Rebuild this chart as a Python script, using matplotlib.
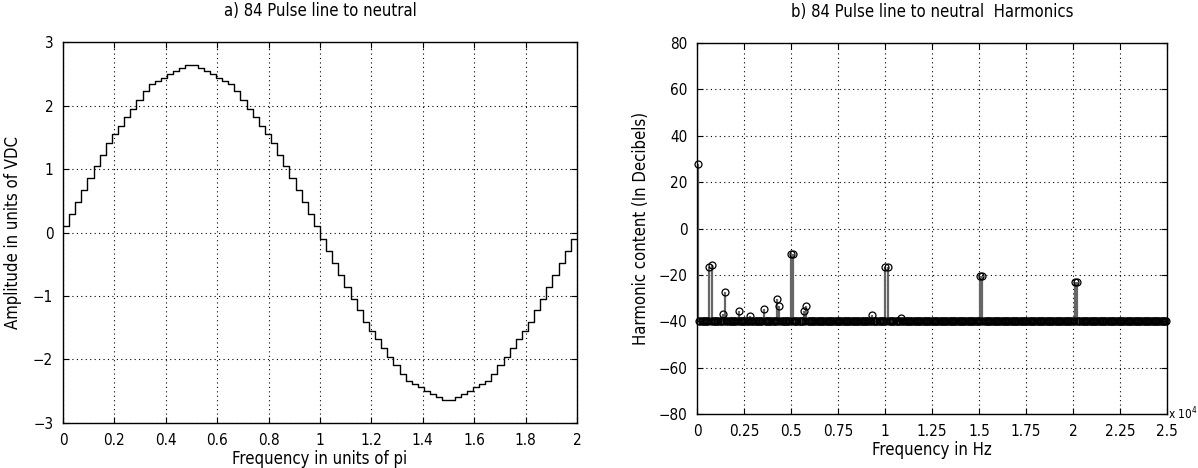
import numpy as np
import matplotlib
matplotlib.use("Agg")
import matplotlib.pyplot as plt

plt.rcParams['font.family'] = ['DejaVu Sans']
plt.rcParams['font.stretch'] = 'condensed'
plt.rcParams['font.size'] = 10.5

# a) staircase levels for the first quarter cycle (units of VDC)
quarter_levels = [0.104, 0.297, 0.479, 0.672, 0.859, 1.042, 1.224, 1.406, 1.552, 1.682,
                  1.818, 1.953, 2.089, 2.234, 2.333, 2.391, 2.438, 2.490, 2.536, 2.589, 2.635]
n_steps = 84

# b) harmonic spectrum (fundamental 60 Hz), dB values
fund_hz = 60
max_order = 416
floor_db = -40
peak_orders = [1, 11, 13, 23, 25, 37, 47, 59, 71, 73, 83, 85, 95, 97, 155,
               167, 169, 181, 251, 253, 335, 337]
peak_db = [27.7, -16.5, -15.7, -36.9, -27.2, -35.7, -37.7, -34.6, -30.4, -33.3,
           -10.8, -10.8, -35.4, -33.3, -37.3, -16.8, -16.8, -38.5, -20.3, -20.3,
           -22.9, -22.9]

# build the waveform (quarter-wave symmetry of the staircase)
half = quarter_levels + quarter_levels[::-1]
wave = np.array(half + [-v for v in half])
edges = np.arange(n_steps + 1) * 2.0 / n_steps

orders = np.arange(1, max_order + 1)
spec = np.full(len(orders), float(floor_db))
for o, d in zip(peak_orders, peak_db):
    spec[o - 1] = d
freqs = orders * fund_hz

fig = plt.figure(figsize=(11.98, 4.68), dpi=100)
ax1 = fig.add_axes([0.0526, 0.0962, 0.429, 0.814])
ax2 = fig.add_axes([0.5818, 0.1154, 0.3923, 0.7927])

def matlab_style(ax):
    ax.grid(True, color='black', linestyle=(0, (1, 3)), linewidth=0.8)
    ax.tick_params(direction='in', top=True, right=True, length=4, width=0.8,
                   colors='black', pad=7, labelsize=11)
    for s in ax.spines.values():
        s.set_linewidth(1.0)

# left plot
ax1.step(edges, np.append(wave, wave[-1]), where='post', color='black', linewidth=1.0)
ax1.set_xlim(0, 2)
ax1.set_ylim(-3, 3)
ax1.set_xticks(np.arange(0, 2.01, 0.2))
ax1.set_xticklabels(['0', '0.2', '0.4', '0.6', '0.8', '1', '1.2', '1.4', '1.6', '1.8', '2'])
ax1.set_yticks(np.arange(-3, 4, 1))
ax1.set_yticklabels(['\u22123', '\u22122', '\u22121', '0', '1', '2', '3'])
ax1.set_title('a) 84 Pulse line to neutral', fontsize=12, pad=19)
ax1.set_xlabel('Frequency in units of pi', fontsize=12, labelpad=2)
ax1.set_ylabel('Amplitude in units of VDC', fontsize=12, labelpad=8)
matlab_style(ax1)

# right plot
stem_mask = spec > floor_db
ax2.vlines(freqs[stem_mask], floor_db, spec[stem_mask], color='0.4', linewidth=1.6, zorder=2)
ax2.plot(freqs, spec, linestyle='none', marker='o', markersize=5,
         markerfacecolor='none', markeredgecolor='black', markeredgewidth=0.9,
         clip_on=False, zorder=3)
ax2.set_xlim(0, 25000)
ax2.set_ylim(-80, 80)
ax2.set_xticks(np.arange(0, 25001, 2500))
ax2.set_xticklabels(['0', '0.25', '0.5', '0.75', '1', '1.25', '1.5', '1.75', '2', '2.25', '2.5'])
ax2.set_yticks(np.arange(-80, 81, 20))
ax2.set_yticklabels(['\u221280', '\u221260', '\u221240', '\u221220', '0', '20', '40', '60', '80'])
ax2.set_title('b) 84 Pulse line to neutral  Harmonics', fontsize=12, pad=19)
ax2.set_xlabel('Frequency in Hz', fontsize=12, labelpad=2)
ax2.set_ylabel('Harmonic content (In Decibels)', fontsize=12, labelpad=6)
matlab_style(ax2)
ax2.text(1.003, 0.0, 'x 10$^{4}$', transform=ax2.transAxes, ha='left', va='center',
         fontsize=8.5)

fig.savefig('out.png', dpi=100)
